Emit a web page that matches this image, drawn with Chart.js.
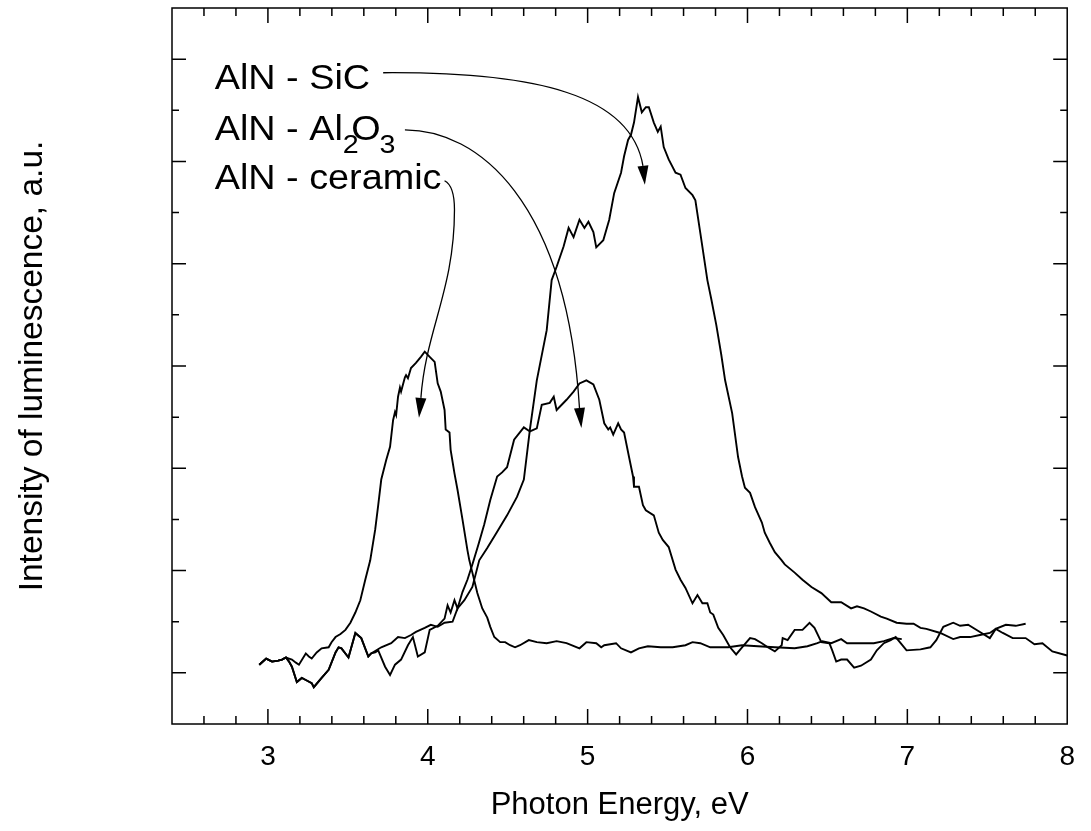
<!DOCTYPE html>
<html>
<head>
<meta charset="utf-8">
<script src="https://cdn.jsdelivr.net/npm/chart.js@4.4.1/dist/chart.umd.min.js"></script>
<style>
html,body{margin:0;padding:0;background:#fff;}
canvas{display:block;}
</style>
</head>
<body>
<canvas id="c" width="1091" height="831"></canvas>
<script>
// ---------------- DATA ----------------
const xTickValues = [3, 4, 5, 6, 7, 8];
const xTickLabels = ['3', '4', '5', '6', '7', '8'];

const ceramicE = [2.946,2.989,3.026,3.064,3.088,3.113,3.132,3.150,3.175,3.194,3.237,3.256,3.274,3.305,3.336,3.380,3.398,3.423,3.454,3.485,3.516,3.547,3.578,3.609,3.640,3.671,3.690,3.709,3.740,3.764,3.783,3.795,3.802,3.814,3.826,3.833,3.857,3.864,3.876,3.895,3.926,3.957,3.981,4.012,4.043,4.062,4.081,4.105,4.112,4.136,4.143,4.167,4.186,4.217,4.248,4.260,4.279,4.310,4.341,4.372,4.391,4.416,4.453,4.484,4.515,4.546,4.577,4.632,4.682,4.744,4.806,4.868,4.949,4.992,5.054,5.085,5.104,5.178,5.209,5.271,5.321,5.377,5.457,5.532,5.612,5.656,5.705,5.767,5.879,5.966,6.065,6.171,6.295,6.375,6.437,6.468,6.524,6.586,6.623,6.710,6.790,6.853,6.915,6.965];
const ceramicI = [58,64,61,62,63,65,64,63,60,58,69,66,64,70,74,75,80,85,88,92,99,109,121,141,160,190,214,239,258,271,297,305,302,320,329,325,339,341,338,348,353,359,364,359,354,333,325,307,288,285,268,245,229,200,170,160,148,128,113,104,95,85,80,80,77,75,77,82,80,79,81,79,74,80,79,75,77,79,74,70,74,76,75,75,77,80,79,75,75,77,76,75,74,76,79,81,79,83,79,79,79,81,84,83];

const al2o3E = [2.946,2.989,3.026,3.064,3.088,3.113,3.132,3.150,3.181,3.212,3.237,3.274,3.287,3.336,3.380,3.423,3.442,3.460,3.504,3.547,3.584,3.628,3.646,3.671,3.690,3.733,3.764,3.795,3.833,3.876,3.907,3.938,3.981,4.012,4.062,4.105,4.124,4.143,4.167,4.186,4.217,4.248,4.279,4.316,4.353,4.391,4.434,4.465,4.496,4.540,4.601,4.639,4.682,4.713,4.763,4.788,4.806,4.868,4.912,4.949,4.992,5.036,5.073,5.104,5.129,5.141,5.160,5.191,5.209,5.228,5.259,5.284,5.290,5.321,5.346,5.364,5.414,5.445,5.470,5.507,5.550,5.581,5.612,5.656,5.687,5.718,5.749,5.767,5.786,5.817,5.848,5.891,5.929,5.966,6.016,6.047,6.090,6.127,6.171,6.214,6.220,6.251,6.295,6.344,6.388,6.419,6.462,6.512,6.530,6.555,6.586,6.623,6.667,6.710,6.772,6.809,6.853,6.896,6.927,6.995,7.082,7.144,7.181,7.225,7.287,7.330,7.380,7.454,7.516,7.553,7.616,7.678,7.740];
const al2o3I = [58,64,61,62,63,65,61,56,41,45,43,40,36,45,53,70,75,74,65,89,84,66,69,70,72,56,48,58,63,77,85,66,70,92,96,103,116,109,121,113,129,141,156,175,195,219,242,246,251,278,290,286,289,312,314,320,307,317,325,333,336,332,317,294,288,290,283,294,288,285,261,242,232,232,214,209,204,187,180,173,151,141,133,118,126,118,118,109,107,94,87,75,68,75,84,83,79,75,71,77,84,82,92,92,99,94,80,79,72,61,63,63,55,57,63,72,79,82,85,72,73,75,82,95,99,96,97,90,84,93,97,96,98];

const sicE = [2.946,2.989,3.026,3.064,3.088,3.113,3.132,3.150,3.181,3.212,3.237,3.274,3.287,3.336,3.380,3.423,3.442,3.460,3.504,3.547,3.584,3.628,3.646,3.709,3.771,3.814,3.857,3.895,3.926,3.981,4.019,4.062,4.105,4.155,4.186,4.229,4.279,4.322,4.372,4.434,4.496,4.558,4.601,4.639,4.682,4.744,4.775,4.806,4.850,4.881,4.912,4.949,4.980,5.005,5.036,5.054,5.098,5.135,5.166,5.209,5.228,5.253,5.271,5.290,5.315,5.339,5.364,5.383,5.414,5.439,5.457,5.476,5.507,5.550,5.581,5.612,5.656,5.674,5.705,5.749,5.774,5.805,5.836,5.860,5.904,5.941,5.966,5.984,6.016,6.047,6.090,6.108,6.140,6.171,6.214,6.233,6.295,6.344,6.400,6.462,6.524,6.586,6.648,6.685,6.729,6.772,6.834,6.871,6.933,6.995,7.039,7.082,7.119,7.206,7.287,7.330,7.392,7.454,7.516,7.553,7.597,7.659,7.740,7.795,7.845,7.907,8.000];
const sicI = [58,64,61,62,63,65,61,56,41,45,43,40,36,45,53,70,75,74,65,89,84,66,69,75,79,85,84,87,90,94,97,95,99,100,113,121,134,160,172,188,204,222,239,288,336,385,434,447,467,485,476,493,485,491,481,466,473,493,519,539,555,571,576,588,613,598,603,603,588,579,584,564,552,539,537,524,517,512,480,434,415,390,361,336,304,261,242,231,226,212,197,187,177,168,160,156,148,141,134,128,119,119,113,115,113,110,105,103,99,98,98,94,93,89,83,85,85,87,89,93,89,84,84,78,79,71,67];

// annotation labels (anchored in data coordinates)
const annLabels = [
  {e: 2.667, v: 621, parts: [{t: 'AlN - SiC'}]},
  {e: 2.667, v: 571, parts: [{t: 'AlN - Al'}, {t: '2', sub: true}, {t: 'O', kern: -7}, {t: '3', sub: true, kern: -1}]},
  {e: 2.667, v: 523, parts: [{t: 'AlN - ceramic'}]}
];
// arrows (data coordinates): start, optional quad segment, cubic segment, tip
const annArrows = [
  {start: [3.721, 636.7], quad: null, c1: [4.682, 637.7], c2: [5.271, 615.2], end: [5.346, 545.7], tip: [5.358, 527.1]},
  {start: [3.857, 580.9], quad: null, c1: [4.310, 580.9], c2: [4.868, 512.5], end: [4.949, 309.0], tip: [4.961, 289.5]},
  {start: [4.105, 531.1], quad: [[4.167, 526.2], [4.167, 502.7]], c1: [4.167, 424.5], c2: [3.988, 385.3], end: [3.957, 318.8], tip: [3.945, 299.3]}
];

// ---------------- STYLE ----------------
const FONT = "'Liberation Sans', Arimo, Arial, Helvetica, sans-serif";
const MAIN_SIZE = 35, SUB_SIZE = 26.5, SUB_DY = 13, TEXT_SX = 1.08;

const mk = (E, I) => E.slice(0, Math.min(E.length, I.length)).map((e, i) => ({x: e, y: I[i]}));
const lineStyle = {showLine: true, borderColor: '#000', backgroundColor: '#000', borderWidth: 1.9, pointRadius: 0, pointHoverRadius: 0, tension: 0, fill: false};

const frameTicks = {
  id: 'frameTicks',
  afterDraw(chart) {
    const {ctx, chartArea: {left, right, top, bottom}, scales: {x, y}} = chart;
    ctx.save();
    ctx.strokeStyle = '#000';
    ctx.lineWidth = 1.5;
    ctx.strokeRect(left, top, right - left, bottom - top);
    ctx.beginPath();
    x.ticks.forEach(t => {
      const v = t.value;
      if (v <= x.min + 1e-6 || v >= x.max - 1e-6) return;
      const p = x.getPixelForValue(v);
      const major = Math.abs(v - Math.round(v)) < 1e-6;
      const L = major ? 15 : 8;
      ctx.moveTo(p, bottom); ctx.lineTo(p, bottom - L);
      ctx.moveTo(p, top); ctx.lineTo(p, top + L);
    });
    y.ticks.forEach(t => {
      const v = t.value;
      if (v <= y.min + 1e-6 || v >= y.max - 1e-6) return;
      const p = y.getPixelForValue(v);
      const major = Math.abs(v % 100 - 50) < 1e-6;
      const L = major ? 14 : 7;
      ctx.moveTo(left, p); ctx.lineTo(left + L, p);
      ctx.moveTo(right, p); ctx.lineTo(right - L, p);
    });
    ctx.stroke();

    // annotations
    const px = e => x.getPixelForValue(e), py = v => y.getPixelForValue(v);
    ctx.fillStyle = '#000';
    ctx.textBaseline = 'alphabetic';
    ctx.textAlign = 'left';
    annLabels.forEach(lab => {
      ctx.save();
      ctx.translate(px(lab.e), py(lab.v));
      ctx.scale(TEXT_SX, 1);
      let cx = 0;
      lab.parts.forEach(p => {
        ctx.font = (p.sub ? SUB_SIZE : MAIN_SIZE) + 'px ' + FONT;
        cx += p.kern || 0;
        ctx.fillText(p.t, cx, p.sub ? SUB_DY : 0);
        cx += ctx.measureText(p.t).width;
      });
      ctx.restore();
    });

    ctx.lineWidth = 1.3;
    annArrows.forEach(a => {
      const P = q => [px(q[0]), py(q[1])];
      const s = P(a.start), c1 = P(a.c1), c2 = P(a.c2), en = P(a.end), tp = P(a.tip);
      ctx.beginPath();
      ctx.moveTo(s[0], s[1]);
      if (a.quad) {
        const q1 = P(a.quad[0]), q2 = P(a.quad[1]);
        ctx.quadraticCurveTo(q1[0], q1[1], q2[0], q2[1]);
      }
      ctx.bezierCurveTo(c1[0], c1[1], c2[0], c2[1], en[0], en[1]);
      ctx.stroke();
      // arrow head
      const dx = tp[0] - en[0], dy = tp[1] - en[1];
      const len = Math.hypot(dx, dy) || 1;
      const nx = -dy / len, ny = dx / len, hw = 5.5;
      ctx.beginPath();
      ctx.moveTo(tp[0], tp[1]);
      ctx.lineTo(en[0] + nx * hw, en[1] + ny * hw);
      ctx.lineTo(en[0] - nx * hw, en[1] - ny * hw);
      ctx.closePath();
      ctx.fill();
    });
    ctx.restore();
  }
};

new Chart(document.getElementById('c').getContext('2d'), {
  type: 'scatter',
  data: {
    datasets: [
      Object.assign({label: 'AlN - ceramic', data: mk(ceramicE, ceramicI)}, lineStyle),
      Object.assign({label: 'AlN - Al2O3', data: mk(al2o3E, al2o3I)}, lineStyle),
      Object.assign({label: 'AlN - SiC', data: mk(sicE, sicI)}, lineStyle)
    ]
  },
  options: {
    responsive: false,
    animation: false,
    devicePixelRatio: 1,
    layout: {padding: {top: 8, right: 16, bottom: 0, left: 0}},
    plugins: {legend: {display: false}, tooltip: {enabled: false}},
    scales: {
      x: {
        type: 'linear', min: 2.4, max: 8,
        afterFit(s) { s.height = 107; },
        grid: {display: false, drawTicks: false},
        border: {display: false},
        ticks: {
          stepSize: 0.2, autoSkip: false, maxRotation: 0, minRotation: 0, padding: 16, color: '#000',
          font: {family: FONT, size: 28},
          callback: v => {
            const i = xTickValues.findIndex(t => Math.abs(t - v) < 1e-6);
            return i >= 0 ? xTickLabels[i] : '';
          }
        },
        title: {display: true, text: 'Photon Energy, eV', color: '#000', font: {family: FONT, size: 31}, padding: {top: 0, bottom: 7}}
      },
      y: {
        type: 'linear', min: 0, max: 700,
        afterFit(s) { s.width = 172; },
        grid: {display: false, drawTicks: false},
        border: {display: false},
        ticks: {stepSize: 50, display: false},
        title: {display: true, text: 'Intensity of luminescence, a.u.', color: '#000', font: {family: FONT, size: 33.5}, padding: {top: 13, bottom: 0}}
      }
    }
  },
  plugins: [frameTicks]
});
</script>
</body>
</html>
